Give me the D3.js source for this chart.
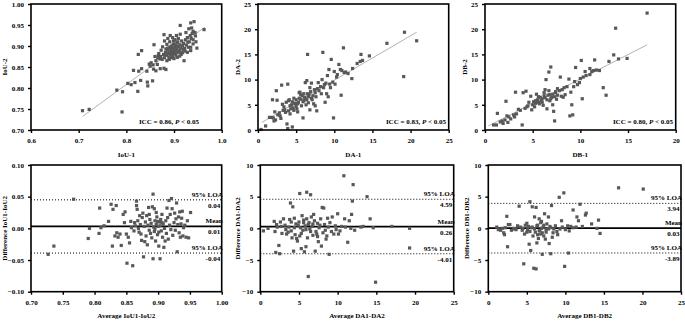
<!DOCTYPE html>
<html>
<head>
<meta charset="utf-8">
<script src="https://cdn.jsdelivr.net/npm/d3@7"></script>
<style>
  body { margin: 0; background: #fff; }
  svg text { font-family: "Liberation Serif", "Times New Roman", serif; font-weight: bold; font-size: 7px; fill: #000; }
</style>
</head>
<body>
<div id="chart"></div>
<script>
// ---- data ----
var iouPts = [[0.708,0.746],[0.722,0.749],[0.791,0.743],[0.780,0.795],[0.792,0.791],[0.803,0.811],[0.810,0.808],[0.818,0.813],[0.815,0.842],[0.824,0.792],[0.830,0.818],[0.826,0.840],[0.832,0.846],[0.825,0.880],[0.832,0.889],[0.844,0.814],[0.845,0.805],[0.855,0.817],[0.843,0.840],[0.848,0.857],[0.857,0.845],[0.862,0.841],[0.858,0.903],[0.865,0.856],[0.867,0.877],[0.871,0.846],[0.879,0.847],[0.883,0.844],[0.879,0.927],[0.892,0.925],[0.913,0.928],[0.913,0.949],[0.921,0.865],[0.935,0.955],[0.942,0.958],[0.963,0.939],[0.945,0.924],[0.940,0.905],[0.948,0.895],[0.935,0.897],[0.929,0.909],[0.925,0.932],[0.931,0.941],[0.937,0.943],[0.940,0.935],
[0.870,0.870],[0.872,0.875],[0.875,0.868],[0.878,0.880],[0.880,0.872],[0.882,0.885],[0.884,0.878],[0.886,0.890],[0.888,0.882],[0.889,0.874],[0.890,0.895],[0.891,0.886],[0.893,0.880],[0.894,0.892],[0.895,0.900],[0.896,0.885],[0.897,0.876],[0.898,0.894],[0.899,0.888],[0.900,0.905],[0.901,0.882],[0.902,0.897],[0.903,0.890],[0.904,0.878],[0.905,0.900],[0.906,0.893],[0.907,0.885],[0.908,0.910],[0.910,0.898],[0.911,0.889],[0.912,0.903],[0.914,0.895],[0.915,0.880],[0.916,0.912],[0.918,0.900],[0.920,0.906],[0.922,0.894],[0.924,0.915],[0.926,0.902],[0.928,0.920],[0.930,0.897],[0.932,0.910],[0.934,0.925],[0.936,0.918],[0.938,0.930],[0.940,0.915],[0.944,0.932],[0.946,0.910],
[0.876,0.898],[0.880,0.912],[0.885,0.904],[0.887,0.918],[0.891,0.910],[0.897,0.920],[0.902,0.915],[0.905,0.925],[0.909,0.918],[0.873,0.890],[0.868,0.882],[0.866,0.872],[0.885,0.865],[0.890,0.868],[0.895,0.872],[0.900,0.870],[0.907,0.873],[0.912,0.876],[0.918,0.884],[0.923,0.888],[0.928,0.885],[0.935,0.889],[0.860,0.875],[0.862,0.865],[0.852,0.860],[0.850,0.852],[0.856,0.855],[0.895,0.880],[0.898,0.903],[0.892,0.898],[0.887,0.895],[0.883,0.893],[0.913,0.885],[0.919,0.892],[0.896,0.893],[0.904,0.887],[0.906,0.908],[0.899,0.912],[0.903,0.902]];

var daPts = [[1.0,0.8],[0.4,0.1],[1.5,2.5],[1.8,2.5],[2.0,2.4],[1.9,6.0],[2.1,1.8],[2.3,2.0],[2.4,7.8],[2.5,5.9],[2.6,3.0],[2.9,2.8],[3.0,2.3],[3.1,8.9],[3.3,3.9],[3.5,4.0],[3.7,5.5],[3.8,1.2],[3.9,9.1],[3.9,0.3],[4.0,5.8],[4.1,6.0],[4.2,3.2],[4.3,4.2],[4.4,5.0],[4.5,0.6],[4.6,4.4],[4.7,3.9],[4.8,5.3],[5.0,6.0],[5.0,4.7],[5.2,3.6],[5.3,5.5],[5.5,7.5],[5.6,6.1],[5.7,4.8],[5.9,5.6],[5.9,2.4],[6.0,7.2],[6.1,6.5],[6.2,9.4],[6.4,9.8],[6.5,15.0],[6.3,5.0],[6.6,6.6],[6.7,7.0],[6.8,4.0],[7.0,6.3],[7.2,6.8],[7.3,5.2],[7.5,7.4],[7.5,4.8],[7.7,3.8],[7.8,8.2],[7.9,9.4],[8.0,7.8],[8.2,8.6],[8.3,7.2],[8.4,10.0],[8.5,15.4],[8.6,8.4],[8.8,5.5],[8.9,9.3],[9.0,7.2],[9.1,10.8],[9.2,6.6],[9.4,9.1],[9.5,8.4],[9.6,14.0],[9.8,9.5],[9.9,2.4],[10.0,11.6],[10.1,9.1],[10.3,10.5],[10.6,13.0],[10.8,12.0],[10.9,6.9],[11.0,11.8],[11.2,16.3],[11.3,11.4],[11.5,11.5],[11.8,11.2],[12.3,10.2],[12.4,12.2],[13.0,13.2],[13.4,13.6],[13.5,15.0],[13.7,13.8],[14.6,14.7],[16.9,17.2],[19.1,10.6],[19.2,19.4],[20.8,17.7],
[4.2,4.8],[4.5,5.6],[4.9,5.2],[5.1,4.2],[5.4,6.3],[5.6,7.0],[5.8,6.8],[6.0,5.8],[6.2,6.2],[6.4,6.0],[6.5,7.2],[6.9,7.6],[7.1,6.0],[7.4,8.0],[7.6,6.6],[3.6,3.5],[3.4,4.6],[2.8,3.4],[2.2,3.6],[4.7,6.3],[5.2,5.2],[6.8,8.4],[7.0,9.3],[8.7,9.0],[9.3,12.0],[10.4,11.0],[5.4,7.4],[3.2,5.1],[4.0,3.8],[6.6,5.4]];

var dbPts = [[0.9,1.0],[1.2,1.0],[1.3,3.3],[1.6,1.6],[1.9,1.3],[2.1,2.0],[2.2,5.7],[2.3,2.8],[2.4,1.5],[2.5,2.6],[3.1,2.6],[3.2,7.5],[3.3,3.2],[3.5,4.1],[3.7,3.9],[3.9,1.0],[4.0,7.4],[4.3,7.7],[4.5,4.8],[4.6,5.5],[4.8,6.7],[4.9,4.0],[5.0,5.0],[5.2,4.6],[5.3,5.3],[5.4,7.1],[5.6,5.5],[5.8,6.5],[5.9,5.8],[6.0,6.2],[6.1,4.9],[6.2,7.4],[6.3,8.0],[6.4,10.0],[6.5,4.2],[6.6,6.9],[6.7,11.5],[6.8,7.0],[6.9,12.5],[7.0,6.5],[7.1,5.0],[7.2,3.7],[7.3,1.8],[7.4,7.4],[7.5,6.1],[7.6,8.2],[7.8,7.8],[7.9,10.5],[8.0,6.7],[8.2,6.5],[8.4,7.0],[8.6,8.6],[8.8,10.1],[8.9,2.8],[9.0,7.5],[9.1,5.0],[9.2,3.0],[9.3,8.6],[9.5,12.4],[9.7,9.0],[9.9,9.4],[10.1,13.8],[10.2,6.2],[10.3,10.5],[10.6,10.8],[11.0,12.2],[11.2,11.6],[11.5,13.9],[11.7,11.9],[12.0,11.8],[12.4,8.4],[12.7,6.9],[13.0,13.6],[13.5,14.9],[13.7,20.2],[14.0,14.1],[14.9,14.2],[17.0,23.2],
[5.1,5.6],[5.5,6.0],[5.7,5.2],[6.0,5.5],[6.3,6.4],[6.5,6.0],[6.7,7.8],[6.9,6.2],[7.1,7.1],[7.3,6.6],[7.6,6.9],[4.2,4.3],[4.4,4.6],[3.0,3.0],[2.7,2.2],[1.8,1.8],[8.1,8.0],[8.3,8.4],[9.4,9.6],[10.0,10.2],[10.5,11.6],[11.0,11.0],[11.4,11.8],[6.2,6.8],[5.6,6.6],[5.3,5.8],[7.4,7.6],[6.8,5.8]];

var iouBA = [[0.727,-0.041],[0.736,-0.028],[0.767,0.046],[0.790,-0.016],[0.792,0.000],[0.807,-0.008],[0.808,0.032],[0.810,0.001],[0.815,0.004],[0.822,0.011],[0.826,0.038],[0.828,-0.028],[0.829,0.030],[0.832,-0.012],[0.834,0.036],[0.835,-0.007],[0.837,-0.014],[0.840,-0.009],[0.842,-0.027],[0.845,0.022],[0.847,0.009],[0.848,0.026],[0.850,-0.009],[0.851,-0.055],[0.853,-0.014],[0.855,-0.023],[0.857,0.011],[0.858,0.001],[0.860,-0.059],[0.862,-0.004],[0.864,0.004],[0.866,0.043],[0.866,0.036],[0.867,0.030],[0.868,0.012],[0.870,-0.006],[0.872,0.006],[0.873,-0.009],[0.875,0.017],[0.876,0.024],[0.877,-0.045],[0.878,0.003],[0.879,-0.021],[0.880,0.010],[0.881,-0.012],[0.882,0.020],[0.883,-0.026],[0.884,0.005],[0.885,0.033],[0.886,-0.003],[0.887,0.014],[0.888,-0.008],[0.889,0.008],[0.890,-0.015],[0.891,0.034],[0.892,-0.048],[0.892,0.054],[0.893,0.002],[0.894,-0.005],[0.895,0.012],[0.896,-0.020],[0.897,0.006],[0.898,0.018],[0.899,-0.010],[0.900,0.003],[0.901,-0.028],[0.902,0.010],[0.903,-0.048],[0.904,0.014],[0.905,-0.004],[0.906,0.022],[0.907,-0.014],[0.908,0.007],[0.909,-0.030],[0.910,0.000],[0.912,0.012],[0.913,-0.008],[0.915,0.017],[0.916,-0.017],[0.917,0.044],[0.918,0.005],[0.919,0.022],[0.920,-0.002],[0.921,0.047],[0.922,0.031],[0.923,-0.011],[0.925,0.009],[0.926,0.024],[0.927,-0.003],[0.928,0.015],[0.929,0.040],[0.930,-0.037],[0.931,0.006],[0.932,0.018],[0.933,-0.007],[0.934,0.026],[0.935,-0.014],[0.937,0.016],[0.938,0.027],[0.940,0.001],[0.942,0.005],[0.944,-0.014],[0.948,-0.015],[0.951,0.025],[0.946,0.012],[0.939,-0.012],[0.936,0.007],[0.911,-0.020],[0.914,0.032],[0.897,0.025],[0.894,0.031],[0.886,0.022],[0.874,-0.019],[0.871,0.020],[0.869,0.000],[0.863,0.009],[0.899,0.011],[0.903,0.004],[0.906,0.009],[0.901,-0.006],[0.895,-0.001]];

var daBA = [[0.4,-0.4],[1.0,0.0],[1.8,1.1],[1.9,-0.5],[2.0,-3.8],[2.1,0.6],[2.2,0.2],[2.4,-2.7],[2.5,-4.0],[2.6,1.0],[2.8,-0.8],[3.0,1.5],[3.2,0.5],[3.4,-0.9],[3.6,-0.6],[3.8,1.4],[3.9,4.0],[4.0,-0.4],[4.1,-1.5],[4.2,3.4],[4.3,-3.6],[4.4,1.6],[4.5,-1.0],[4.6,0.7],[4.7,-1.6],[4.8,-2.0],[5.0,1.0],[5.1,5.5],[5.2,0.1],[5.3,-3.2],[5.4,2.0],[5.5,-0.3],[5.6,1.3],[5.7,-3.7],[5.8,0.4],[5.9,-2.9],[6.0,5.7],[6.1,-1.5],[6.2,-7.6],[6.3,0.9],[6.4,-0.1],[6.5,5.3],[6.6,1.8],[6.7,0.3],[6.8,-1.1],[7.0,1.2],[7.1,-3.6],[7.2,-0.5],[7.4,0.8],[7.5,-2.1],[7.6,0.1],[7.8,1.5],[7.9,-2.8],[8.0,3.3],[8.1,-0.7],[8.2,3.2],[8.3,0.6],[8.5,-1.7],[8.7,1.6],[8.9,-4.1],[9.0,0.9],[9.2,-0.5],[9.3,1.8],[9.5,-0.9],[9.7,0.4],[10.0,2.3],[10.3,-0.4],[10.5,0.3],[10.8,8.3],[10.9,1.5],[11.0,0.2],[11.3,-2.2],[11.5,1.2],[11.8,2.2],[11.9,4.3],[12.0,6.9],[12.2,-0.3],[13.0,0.2],[13.3,0.3],[13.8,5.0],[14.2,1.5],[14.6,0.1],[14.9,-8.5],[17.0,0.3],[19.3,-3.1],[19.3,0.0],
[4.9,0.5],[5.3,-0.8],[5.6,0.9],[5.9,-0.2],[6.2,0.6],[6.5,-0.5],[6.8,0.7],[7.3,-0.9],[7.7,0.5],[8.4,-0.3],[8.8,0.2],[3.7,0.2],[3.3,-0.2],[2.7,0.3],[9.8,-0.2],[6.9,2.2],[7.4,-1.3],[5.1,-1.2],[4.4,0.1],[4.0,1.0],[6.0,1.5],[8.6,-1.2],[10.1,-0.9],[11.7,0.0]];

var dbBA = [[1.1,0.2],[1.3,-0.2],[1.6,-0.3],[1.8,0.0],[2.0,-0.7],[2.1,-1.0],[2.4,1.9],[2.5,-2.9],[2.6,0.6],[2.8,0.6],[3.0,-0.3],[3.3,0.0],[3.6,-0.2],[3.8,0.4],[4.0,3.5],[4.2,0.2],[4.4,-0.3],[4.6,-5.6],[4.7,-0.9],[4.8,0.5],[5.0,0.8],[5.1,-0.2],[5.3,-2.5],[5.4,4.2],[5.5,-3.5],[5.6,0.1],[5.7,3.4],[5.8,-1.2],[5.9,-6.3],[6.0,1.8],[6.1,-0.6],[6.2,3.3],[6.2,-6.4],[6.3,-2.3],[6.4,0.5],[6.5,-1.6],[6.6,1.5],[6.7,-0.3],[6.8,-0.9],[6.9,1.1],[7.0,-4.1],[7.1,0.2],[7.2,-1.2],[7.3,2.3],[7.4,-1.7],[7.5,-0.2],[7.6,0.7],[7.8,1.8],[7.9,-2.4],[8.0,0.3],[8.1,-4.0],[8.2,3.6],[8.3,-1.4],[8.5,-0.1],[8.7,0.4],[8.9,-0.5],[9.2,4.9],[9.3,-0.1],[9.5,1.2],[9.8,5.6],[9.9,-6.0],[10.0,-0.2],[10.3,0.4],[10.4,-3.9],[10.7,0.3],[11.0,2.9],[11.4,0.2],[11.5,1.8],[11.7,1.2],[11.9,3.8],[12.2,0.3],[12.6,2.1],[12.7,2.4],[13.4,0.7],[14.1,0.0],[14.3,1.3],[14.5,-0.8],[16.9,6.4],[20.1,6.2],
[5.2,0.3],[5.4,-0.5],[5.7,0.2],[6.0,-0.1],[6.3,0.4],[6.6,-0.4],[6.9,0.0],[7.2,0.5],[7.5,-0.6],[7.8,-0.1],[8.1,0.1],[8.4,-0.7],[4.5,0.0],[3.4,-0.1],[2.2,0.1],[9.0,-1.0],[9.6,0.2],[10.5,-0.4],[11.0,0.1],[6.4,-1.0],[6.8,0.9],[7.0,-0.7],[5.0,-0.6]];

// fitted lines (endpoints) and stats
var iouFit = [[0.708,0.732],[0.965,0.945]];
var daFit = [[0.5,1.5],[20.8,19.4]];
var dbFit = [[0.35,0.8],[17.0,16.9]];
var iccLabels = ["0.86", "0.83", "0.80"];

var iouLoa = [0.045, 0.003, -0.039], iouLoaText = ["0.04", "0.01", "-0.04"];
var daLoa = [4.59, 0.26, -4.01], daLoaText = ["4.59", "0.26", "-4.01"];
var dbLoa = [3.94, 0.03, -3.89], dbLoaText = ["3.94", "0.03", "-3.89"];
var loaNames = ["95% LOA", "Mean", "95% LOA"];

var width = 685, height = 321;

var svg = d3.select("#chart").append("svg")
    .attr("width", width)
    .attr("height", height)

function panel(opt) {
    var x = d3.scaleLinear().domain(opt.xd).range([opt.x0, opt.x1])
    var y = d3.scaleLinear().domain(opt.yd).range([opt.y1, opt.y0])
    var g = svg.append("g")

    g.append("g")
        .attr("transform", "translate(0," + opt.y1 + ")")
        .call(d3.axisBottom(x).tickValues(opt.xt).tickFormat(d3.format(opt.xf)).tickSize(3).tickPadding(5).tickSizeOuter(0))
        .call(function(a) { a.select(".domain").remove() })
        .selectAll("line").attr("stroke-width", 1.4)
    g.append("g")
        .attr("transform", "translate(" + opt.x0 + ",0)")
        .call(d3.axisLeft(y).tickValues(opt.yt).tickFormat(d3.format(opt.yf)).tickSize(3).tickPadding(4).tickSizeOuter(0))
        .call(function(a) { a.select(".domain").remove() })
        .selectAll("line").attr("stroke-width", 1.4)
    g.selectAll(".tick text").attr("font-size", null).attr("font-family", null)

    if (opt.fit) {
        g.append("line")
            .attr("x1", x(opt.fit[0][0])).attr("y1", y(opt.fit[0][1]))
            .attr("x2", x(opt.fit[1][0])).attr("y2", y(opt.fit[1][1]))
            .attr("stroke", "#a0a0a0").attr("stroke-width", 0.8)
    }

    if (opt.loa) {
        opt.loa.forEach(function(v, i) {
            g.append("line")
                .attr("x1", opt.x0).attr("x2", opt.x1)
                .attr("y1", y(v)).attr("y2", y(v))
                .attr("stroke", "#000")
                .attr("stroke-width", i == 1 ? 1.7 : 1)
                .attr("stroke-dasharray", i == 1 ? null : "1,2")
            g.append("text").attr("x", opt.x1 + 1).attr("y", y(v) - 3)
                .attr("text-anchor", "end").text(loaNames[i])
            g.append("text").attr("x", opt.x1 - 1.5).attr("y", y(v) + 8)
                .attr("text-anchor", "end").text(opt.loaText[i])
        })
    }

    g.append("g").selectAll("rect")
        .data(opt.pts)
        .enter()
        .append("rect")
        .attr("x", function(d) { return x(d[0]) - 1.6 })
        .attr("y", function(d) { return y(d[1]) - 1.6 })
        .attr("width", 3.2).attr("height", 3.2)
        .attr("fill", "#585858")

    g.append("rect")
        .attr("x", opt.x0).attr("y", opt.y0)
        .attr("width", opt.x1 - opt.x0).attr("height", opt.y1 - opt.y0)
        .attr("fill", "none").attr("stroke", "#000").attr("stroke-width", 1.6)

    if (opt.icc) {
        var t = g.append("text").attr("x", opt.iccX).attr("y", opt.y1 - 6).attr("text-anchor", "end")
        t.append("tspan").text("ICC = " + opt.icc + ", ")
        t.append("tspan").attr("font-style", "italic").text("P")
        t.append("tspan").text(" < 0.05")
    }

    g.append("text")
        .attr("x", (opt.x0 + opt.x1) / 2).attr("y", opt.y1 + 26.5)
        .attr("text-anchor", "middle").text(opt.xl)
    g.append("text")
        .attr("transform", "translate(" + opt.ylx + "," + (opt.y0 + opt.y1) / 2 + ") rotate(-90)")
        .attr("text-anchor", "middle").text(opt.yl)
}

var top0 = 4, top1 = 130, bot0 = 165, bot1 = 291.7;

panel({ x0: 31, x1: 221.7, y0: top0, y1: top1, xd: [0.6, 1.0], yd: [0.70, 1.00],
    xt: [0.6, 0.7, 0.8, 0.9, 1.0], xf: ".1f", yt: [0.70, 0.75, 0.80, 0.85, 0.90, 0.95, 1.00], yf: ".2f",
    pts: iouPts, fit: iouFit, icc: iccLabels[0], iccX: 199, xl: "IoU-1", yl: "IoU-2", ylx: 7 })
panel({ x0: 258, x1: 448.7, y0: top0, y1: top1, xd: [0, 25], yd: [0, 25],
    xt: [0, 5, 10, 15, 20, 25], xf: "d", yt: [0, 5, 10, 15, 20, 25], yf: "d",
    pts: daPts, fit: daFit, icc: iccLabels[1], iccX: 446, xl: "DA-1", yl: "DA-2", ylx: 240 })
panel({ x0: 485, x1: 675.7, y0: top0, y1: top1, xd: [0, 20], yd: [0, 25],
    xt: [0, 5, 10, 15, 20], xf: "d", yt: [0, 5, 10, 15, 20, 25], yf: "d",
    pts: dbPts, fit: dbFit, icc: iccLabels[2], iccX: 673, xl: "DB-1", yl: "DB-2", ylx: 467 })

panel({ x0: 31, x1: 221.7, y0: bot0, y1: bot1, xd: [0.70, 1.00], yd: [-0.10, 0.10],
    xt: [0.70, 0.75, 0.80, 0.85, 0.90, 0.95, 1.00], xf: ".2f", yt: [-0.10, -0.05, 0, 0.05, 0.10], yf: ".2f",
    pts: iouBA, loa: iouLoa, loaText: iouLoaText, xl: "Average IoU1-IoU2", yl: "Difference IoU1-IoU2", ylx: 7 })
panel({ x0: 260.3, x1: 453.7, y0: bot0, y1: bot1, xd: [0, 25], yd: [-10, 10],
    xt: [0, 5, 10, 15, 20, 25], xf: "d", yt: [-10, -5, 0, 5, 10], yf: "d",
    pts: daBA, loa: daLoa, loaText: daLoaText, xl: "Average DA1-DA2", yl: "Difference DA1-DA2", ylx: 240 })
panel({ x0: 488.3, x1: 681, y0: bot0, y1: bot1, xd: [0, 25], yd: [-10, 10],
    xt: [0, 5, 10, 15, 20, 25], xf: "d", yt: [-10, -5, 0, 5, 10], yf: "d",
    pts: dbBA, loa: dbLoa, loaText: dbLoaText, xl: "Average DB1-DB2", yl: "Difference DB1-DB2", ylx: 469 })
</script>
</body>
</html>
